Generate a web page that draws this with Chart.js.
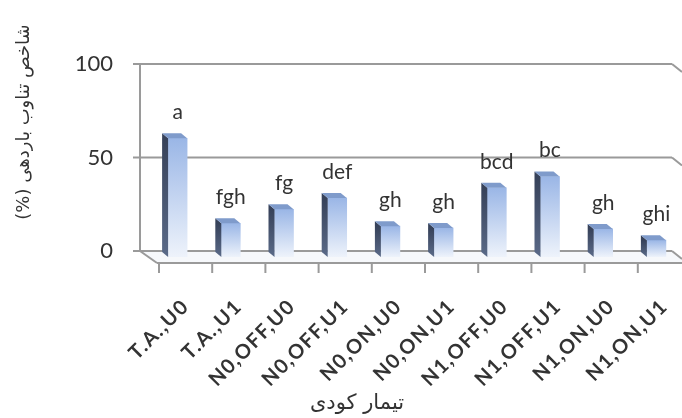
<!DOCTYPE html>
<html>
<head>
<meta charset="utf-8">
<script src="https://cdn.jsdelivr.net/npm/chart.js@4.4.0/dist/chart.umd.min.js"></script>
<style>
  html, body { margin: 0; padding: 0; background: #fff; }
  #wrap { width: 682px; height: 418px; }
</style>
</head>
<body>
<div id="wrap"><canvas id="chart" width="682" height="418"></canvas></div>
<script>
const categories = ['T.A.,U0', 'T.A.,U1', 'N0,OFF,U0', 'N0,OFF,U1', 'N0,ON,U0', 'N0,ON,U1', 'N1,OFF,U0', 'N1,OFF,U1', 'N1,ON,U0', 'N1,ON,U1'];
const yieldIndex = [63.5, 18, 25.5, 31.5, 16.5, 15.5, 37, 43, 15, 9];
const groupLetters = ['a', 'fgh', 'fg', 'def', 'gh', 'gh', 'bcd', 'bc', 'gh', 'ghi'];
const yTicks = [0, 50, 100];
const yTitle = 'شاخص تناوب باردهی (%)';
const xTitle = 'تیمار کودی';

// fake 3d: bars stand a little in front of the back wall
const barShift = { x: 11, y: 6 };
const barDepth = { x: -6, y: -5 };
const floorDepth = { x: 17, y: 12 };
const lineColor = '#9a9a9a';
const textColor = '#333333';

function line(ctx, x1, y1, x2, y2) {
  ctx.beginPath();
  ctx.moveTo(x1, y1);
  ctx.lineTo(x2, y2);
  ctx.stroke();
}

function poly(ctx, pts, fill) {
  ctx.beginPath();
  ctx.moveTo(pts[0][0], pts[0][1]);
  pts.slice(1).forEach(p => ctx.lineTo(p[0], p[1]));
  ctx.closePath();
  ctx.fillStyle = fill;
  ctx.fill();
}

const fake3d = {
  id: 'fake3d',

  beforeDraw(chart) {
    const { ctx, chartArea: a, scales: { x, y } } = chart;
    const y0 = y.getPixelForValue(0);
    ctx.save();

    // floor
    poly(ctx, [
      [a.left, y0], [a.right, y0],
      [a.right + floorDepth.x, y0 + floorDepth.y], [a.left + floorDepth.x, y0 + floorDepth.y]
    ], '#f6f8fb');

    ctx.strokeStyle = lineColor;
    ctx.lineWidth = 2;

    // back wall grid + right wall slant
    yTicks.forEach(v => {
      const py = y.getPixelForValue(v);
      line(ctx, a.left - 7, py, a.right, py);
      line(ctx, a.right, py, a.right + 10, py + 8);
    });
    line(ctx, a.left, y.getPixelForValue(100), a.left, y0);

    // floor edges
    line(ctx, a.left, y0, a.left + floorDepth.x, y0 + floorDepth.y);
    line(ctx, a.left + floorDepth.x, y0 + floorDepth.y, a.right + floorDepth.x, y0 + floorDepth.y);

    // category ticks on the front edge of the floor
    for (let i = 0; i <= categories.length; i++) {
      const px = x.getPixelForValue(i - 0.5) + floorDepth.x + 2;
      line(ctx, px, y0 + floorDepth.y, px, y0 + floorDepth.y + 10);
    }
    ctx.restore();
  },

  beforeDatasetsDraw(chart) {
    chart.ctx.save();
    chart.ctx.translate(barShift.x, barShift.y);
  },

  afterDatasetsDraw(chart) {
    const ctx = chart.ctx;
    const meta = chart.getDatasetMeta(0);

    meta.data.forEach((bar, i) => {
      const x0 = bar.x - bar.width / 2;
      const x1 = bar.x + bar.width / 2;

      const side = ctx.createLinearGradient(0, bar.y, 0, bar.base);
      side.addColorStop(0, '#37425a');
      side.addColorStop(1, '#5a6a88');
      poly(ctx, [
        [x0, bar.y], [x0, bar.base],
        [x0 + barDepth.x, bar.base + barDepth.y], [x0 + barDepth.x, bar.y + barDepth.y]
      ], side);

      poly(ctx, [
        [x0, bar.y], [x1, bar.y],
        [x1 + barDepth.x, bar.y + barDepth.y], [x0 + barDepth.x, bar.y + barDepth.y]
      ], '#7f9bcb');

      ctx.fillStyle = textColor;
      ctx.font = '21px Lato';
      ctx.textAlign = 'center';
      ctx.textBaseline = 'middle';
      ctx.fillText(groupLetters[i], bar.x, bar.y - 26);
    });

    ctx.restore();
  },

  afterDraw(chart) {
    const { ctx, scales: { x } } = chart;
    ctx.save();
    ctx.fillStyle = textColor;

    // rotated category labels
    ctx.font = 'bold 20px Lato';
    ctx.letterSpacing = '1.5px';
    ctx.textAlign = 'right';
    ctx.textBaseline = 'middle';
    categories.forEach((label, i) => {
      ctx.save();
      ctx.translate(x.getPixelForValue(i) + 19, 303);
      ctx.rotate(-Math.PI / 4);
      ctx.fillText(label, 0, 0);
      ctx.restore();
    });
    ctx.letterSpacing = '0px';

    // axis titles
    ctx.direction = 'rtl';
    ctx.textAlign = 'center';
    ctx.font = '21px "DejaVu Sans"';
    ctx.fillText(xTitle, 357, 404);

    ctx.translate(24, 122);
    ctx.rotate(-Math.PI / 2);
    ctx.font = '18px "DejaVu Sans"';
    ctx.fillText(yTitle, 0, 0);
    ctx.restore();
  }
};

new Chart(document.getElementById('chart'), {
  type: 'bar',
  data: {
    labels: categories,
    datasets: [{
      data: yieldIndex,
      borderWidth: 0,
      barThickness: 19,
      backgroundColor(c) {
        const { chartArea, scales } = c.chart;
        if (!chartArea || c.type !== 'data') return '#a9c1ea';
        const top = scales.y.getPixelForValue(c.raw);
        const base = scales.y.getPixelForValue(0);
        const g = c.chart.ctx.createLinearGradient(0, top, 0, base);
        g.addColorStop(0, '#9ab6e6');
        g.addColorStop(1, '#eef3fb');
        return g;
      }
    }]
  },
  options: {
    responsive: false,
    animation: false,
    layout: { padding: { top: 64, right: 10, bottom: 167, left: 0 } },
    plugins: {
      legend: { display: false },
      tooltip: { enabled: false }
    },
    scales: {
      x: { display: false },
      y: {
        min: 0,
        max: 100,
        afterFit(s) { s.width = 140; },
        grid: { display: false, drawTicks: false },
        border: { display: false },
        ticks: {
          stepSize: 50,
          padding: 27,
          color: textColor,
          font: { family: 'Lato', size: 22 }
        }
      }
    }
  },
  plugins: [fake3d]
});
</script>
</body>
</html>
